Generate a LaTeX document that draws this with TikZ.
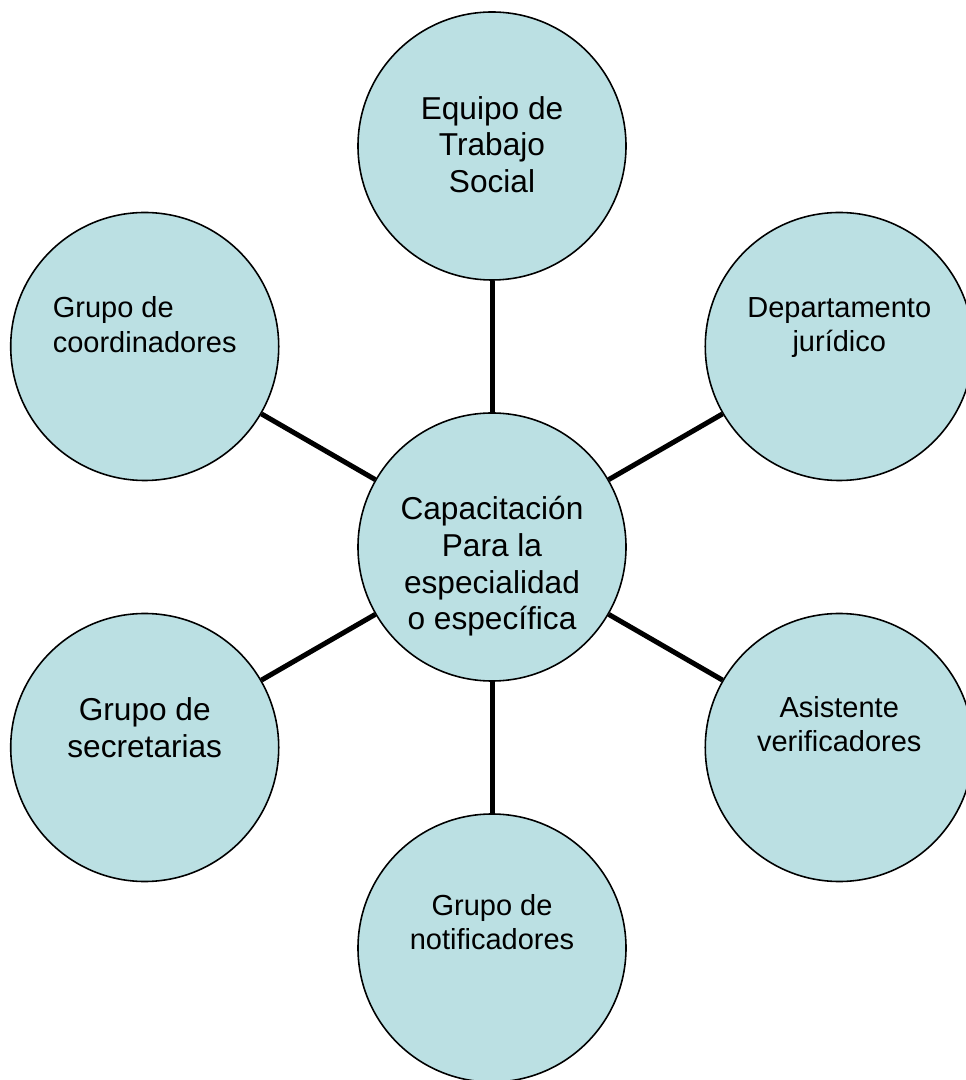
\documentclass[tikz,border=0pt]{standalone}
\usepackage{fontspec}
\setmainfont{Liberation Sans}
\definecolor{celeste}{RGB}{187,224,227}

\begin{document}
\begin{tikzpicture}[
        circulo/.style={circle, draw=black, line width=0.9pt, fill=celeste, minimum size=5.36cm, inner sep=0pt},
        enlace/.style={draw, line width=0.1cm},
        textogrande/.style={align=center, inner sep=0pt, font=\fontsize{18}{20.9}\selectfont},
        textomedio/.style={align=center, inner sep=0pt, font=\fontsize{16.5}{19.6}\selectfont}
        ]
        \useasboundingbox (-9.84,-10.66) rectangle (9.48,10.94);

        \node [circulo] (capacitacion) at (0,0) {};
        \node [circulo] (equipo) at (90:8.02) {};
        \node [circulo] (juridico) at (30:8.02) {};
        \node [circulo] (verificadores) at (-30:8.02) {};
        \node [circulo] (notificadores) at (-90:8.02) {};
        \node [circulo] (secretarias) at (210:8.02) {};
        \node [circulo] (coordinadores) at (150:8.02) {};

        \draw[enlace] (capacitacion) -- (equipo);
        \draw[enlace] (capacitacion) -- (juridico);
        \draw[enlace] (capacitacion) -- (verificadores);
        \draw[enlace] (capacitacion) -- (notificadores);
        \draw[enlace] (capacitacion) -- (secretarias);
        \draw[enlace] (capacitacion) -- (coordinadores);

        % textos, algo desplazados del centro de cada circulo
        \node [textogrande] (t-capacitacion) at ([yshift=-0.39cm]capacitacion.center) {Capacitación\\Para la\\especialidad\\o específica};
        \node [textogrande] (t-equipo) at ([yshift=0.03cm]equipo.center) {Equipo de\\Trabajo\\Social};
        \node [textomedio] (t-juridico) at ([yshift=0.38cm]juridico.center) {Departamento\\jurídico};
        \node [textomedio] (t-verificadores) at ([yshift=0.47cm]verificadores.center) {Asistente\\verificadores};
        \node [textomedio] (t-notificadores) at ([yshift=0.52cm]notificadores.center) {Grupo de\\notificadores};
        \node [textogrande] (t-secretarias) at ([yshift=0.40cm]secretarias.center) {Grupo de\\secretarias};
        \node [textomedio, align=left] (t-coordinadores) at ([yshift=0.44cm]coordinadores.center) {Grupo de\\coordinadores};
\end{tikzpicture}
\end{document}
